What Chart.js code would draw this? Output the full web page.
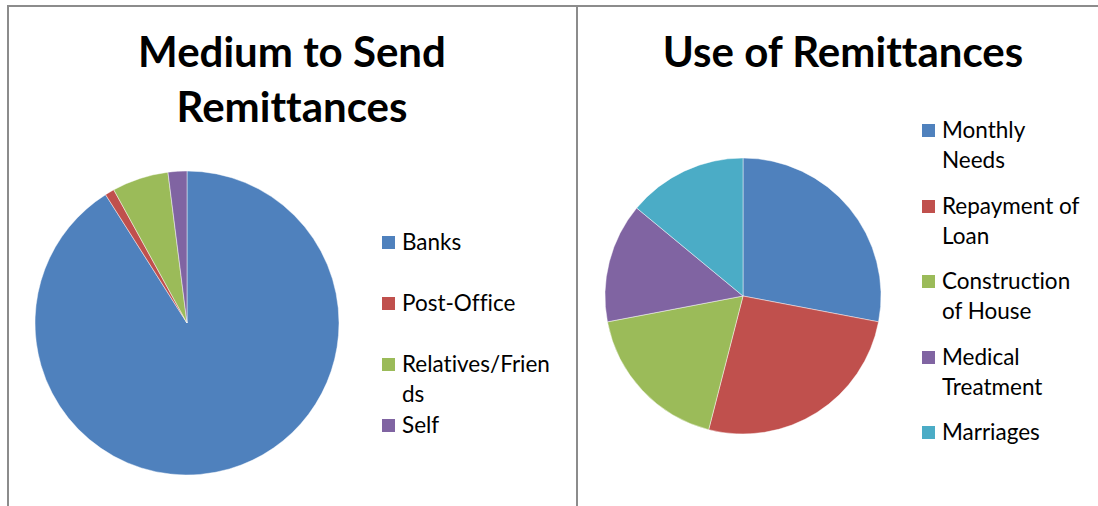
<!DOCTYPE html>
<html>
<head>
<meta charset="utf-8">
<script src="https://cdn.jsdelivr.net/npm/chart.js@4"></script>
<style>
    html, body {
        margin: 0;
        padding: 0;
        background: #fff;
        width: 1098px;
        height: 506px;
        overflow: hidden;
        font-family: Lato, "Open Sans", sans-serif;
        font-variant-ligatures: none;
        color: #000;
    }
    .frame {
        position: absolute;
        border-left: 2px solid #8c8c8c;
        border-top: 2px solid #8c8c8c;
        box-sizing: border-box;
    }
    .title {
        position: absolute;
        text-align: center;
        font-weight: bold;
        font-size: 42px;
        line-height: 55px;
    }
    .pie {
        position: absolute;
    }
    .legend {
        position: absolute;
        font-size: 22.5px;
        line-height: 30px;
    }
    .legend .item {
        position: absolute;
        left: 0;
        white-space: nowrap;
    }
    .legend .box {
        position: absolute;
        left: -20px;
        top: 9px;
        width: 13px;
        height: 13px;
    }
</style>
</head>
<body>

<div class="frame" style="left:7px; top:5px; width:1091px; height:501px;"></div>
<div class="frame" style="left:576px; top:5px; width:522px; height:501px; border-top:none;"></div>

<div class="title" style="left:7px; top:24px; width:570px;">Medium to Send<br>Remittances</div>
<div class="title" style="left:577px; top:24px; width:532px;">Use of Remittances</div>

<div class="pie" style="left:27px; top:163px; width:320px; height:320px;"><canvas id="medium"></canvas></div>
<div class="pie" style="left:593px; top:146px; width:300px; height:300px;"><canvas id="use"></canvas></div>

<div class="legend" id="mediumLegend" style="left:402px; top:227px;"></div>
<div class="legend" id="useLegend" style="left:942px; top:115px;"></div>

<script>
// ---- data ----
const mediumLabels = [["Banks"], ["Post-Office"], ["Relatives/Frien", "ds"], ["Self"]];
const mediumValues = [91, 1, 6, 2];

const useLabels = [["Monthly", "Needs"], ["Repayment of", "Loan"], ["Construction", "of House"], ["Medical", "Treatment"], ["Marriages"]];
const useValues = [28, 26, 18, 14, 14];

const palette = ["#4F81BD", "#C0504D", "#9BBB59", "#8064A2", "#4BACC6"];

function makePie(id, labels, values, radius) {
    return new Chart(document.getElementById(id), {
        type: "pie",
        data: {
            labels: labels,
            datasets: [{
                data: values,
                backgroundColor: palette.slice(0, values.length),
                borderColor: "rgba(255,255,255,.45)",
                borderWidth: 1
            }]
        },
        options: {
            responsive: true,
            maintainAspectRatio: false,
            animation: false,
            radius: radius,
            plugins: {
                legend: { display: false },
                tooltip: { enabled: false }
            }
        }
    });
}

// legend rows sit in fixed slots, wrapped labels spill into the next line
function makeLegend(id, labels, slot) {
    const el = document.getElementById(id);
    labels.forEach((lines, i) => {
        const item = document.createElement("div");
        item.className = "item";
        item.style.top = (i * slot) + "px";
        item.innerHTML = lines.join("<br>");
        const box = document.createElement("span");
        box.className = "box";
        box.style.background = palette[i];
        item.appendChild(box);
        el.appendChild(item);
    });
}

makePie("medium", mediumLabels, mediumValues, 152);
makePie("use", useLabels, useValues, 138);

makeLegend("mediumLegend", mediumLabels, 61);
makeLegend("useLegend", useLabels, 75.5);
</script>
</body>
</html>
